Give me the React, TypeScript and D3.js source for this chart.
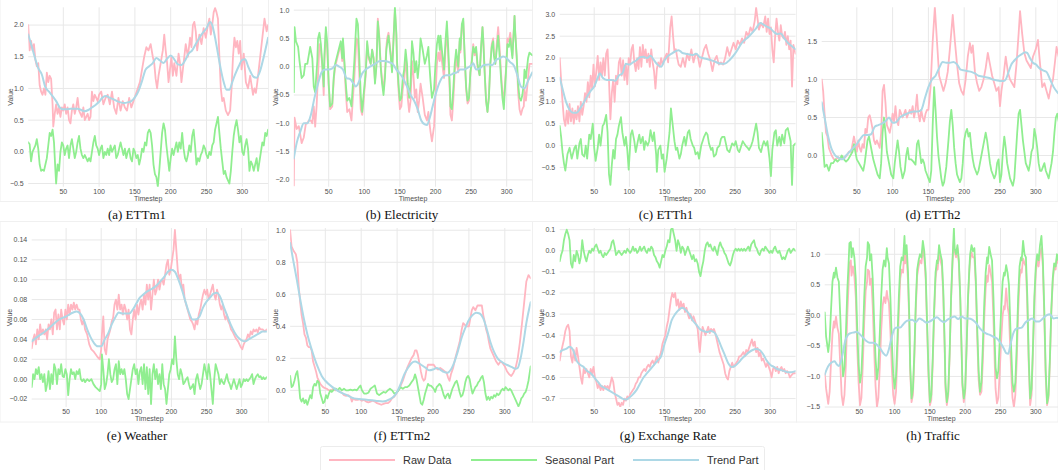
import React from "react";
import * as d3 from "d3";

type Pt = [number, number];

// ---------- ETTm1 ----------
const ettm1Raw: Pt[] = [[1,2.0],[3,1.6],[5,1.75],[7,1.6],[9,1.7],[11,1.45],[13,1.35],[15,1.4],[17,1.05],[19,0.95],[21,0.9],[23,1.0],[25,0.9],[27,1.25],[29,1.1],[31,1.2],[33,1.15],[35,0.75],[36,0.4],[38,0.6],[40,0.75],[42,0.6],[44,0.7],[46,0.55],[48,0.7],[50,0.65],[52,0.75],[54,0.6],[56,0.7],[58,0.5],[60,0.45],[62,0.65],[64,0.75],[66,0.6],[68,0.7],[70,0.85],[72,0.65],[74,0.6],[76,0.55],[78,0.7],[80,0.5],[82,0.55],[84,0.6],[86,0.5],[88,0.55],[90,0.95],[92,0.8],[94,0.9],[96,0.85],[98,0.8],[100,0.9],[103,0.95],[106,0.75],[109,0.85],[112,0.9],[115,0.75],[118,0.95],[121,0.7],[124,0.6],[127,0.85],[130,0.65],[133,0.8],[136,0.7],[139,0.65],[142,0.85],[145,0.7],[148,0.8],[151,0.9],[154,1.0],[157,1.1],[160,1.3],[163,1.5],[166,1.65],[169,1.6],[172,1.7],[175,1.5],[177,1.4],[179,1.15],[181,1.0],[183,1.2],[186,1.4],[189,1.6],[191,1.85],[193,1.6],[195,1.4],[197,1.1],[199,1.3],[201,1.5],[203,1.2],[205,1.4],[208,1.2],[211,1.55],[213,1.4],[215,1.1],[218,1.4],[221,1.7],[224,1.5],[227,1.8],[229,1.65],[231,2.0],[233,2.05],[235,1.9],[237,1.6],[240,1.85],[243,1.7],[246,1.95],[249,1.8],[252,2.0],[254,2.1],[256,1.85],[258,2.0],[260,2.2],[262,2.27],[264,2.2],[266,2.1],[268,1.5],[270,1.0],[272,0.8],[274,0.85],[277,0.65],[280,0.58],[283,0.65],[285,1.0],[287,1.5],[289,1.8],[291,1.65],[293,1.75],[295,1.55],[297,1.75],[299,1.3],[302,1.55],[305,1.1],[308,1.0],[311,1.2],[313,1.05],[315,0.9],[317,1.0],[319,0.93],[321,1.1],[323,1.3],[326,1.6],[329,1.9],[331,2.1],[334,1.9],[336,2.0]];
const ettm1Seasonal: Pt[] = [[1,0.15],[3,0.12],[5,-0.15],[7,0.0],[9,0.05],[11,0.1],[13,0.2],[15,0.05],[17,-0.2],[19,-0.3],[21,-0.28],[23,-0.3],[25,-0.2],[27,-0.1],[29,0.1],[31,0.3],[33,0.25],[35,0.35],[37,0.15],[39,-0.3],[40,-0.5],[42,-0.2],[44,-0.3],[46,0.0],[48,0.15],[50,0.1],[52,-0.05],[54,0.05],[56,0.1],[58,-0.1],[60,0.1],[62,0.2],[64,0.05],[66,-0.1],[68,0.0],[70,0.15],[72,0.25],[74,0.05],[76,-0.05],[78,-0.1],[80,-0.05],[82,-0.1],[84,-0.15],[86,-0.1],[88,-0.15],[90,0.0],[92,0.15],[94,0.25],[96,0.1],[98,0.05],[100,-0.05],[102,0.05],[104,0.1],[106,-0.1],[108,0.0],[110,-0.05],[112,0.05],[114,-0.05],[116,0.1],[118,0.0],[120,0.05],[122,0.1],[124,-0.1],[126,-0.05],[128,0.05],[130,0.15],[132,0.05],[134,-0.05],[136,0.05],[138,-0.1],[140,0.0],[142,0.05],[144,-0.1],[146,-0.15],[148,0.05],[150,0.0],[152,-0.1],[154,-0.05],[156,-0.2],[158,-0.1],[160,0.05],[162,0.0],[164,0.15],[166,0.1],[168,0.3],[170,0.35],[172,0.3],[174,0.1],[176,-0.2],[178,-0.35],[180,-0.4],[182,-0.55],[184,-0.3],[186,0.0],[188,0.3],[190,0.45],[192,0.35],[194,0.1],[196,-0.1],[198,-0.3],[200,-0.1],[202,0.05],[204,-0.05],[206,0.05],[208,0.15],[210,0.0],[212,0.15],[214,0.05],[216,0.3],[218,0.05],[220,-0.1],[222,-0.15],[224,-0.05],[226,0.1],[228,0.0],[230,0.25],[232,0.35],[234,0.1],[236,-0.2],[238,-0.1],[240,-0.15],[242,-0.05],[244,0.0],[246,0.1],[248,0.05],[250,-0.05],[252,-0.1],[254,0.0],[256,-0.05],[258,0.1],[260,0.15],[262,0.35],[264,0.45],[266,0.55],[268,0.3],[270,0.05],[272,-0.15],[274,-0.35],[276,-0.3],[278,-0.4],[280,-0.45],[282,-0.5],[284,-0.3],[286,0.0],[288,0.25],[290,0.4],[292,0.5],[294,0.35],[296,0.15],[298,0.25],[300,0.0],[302,-0.05],[304,0.1],[306,0.2],[308,0.05],[310,-0.3],[312,-0.15],[314,-0.2],[316,-0.3],[318,-0.2],[320,-0.1],[322,-0.3],[324,-0.15],[326,0.0],[328,0.15],[330,0.1],[332,0.3],[334,0.25],[336,0.35]];
const ettm1Trend: Pt[] = [[1,1.85],[5,1.7],[10,1.5],[15,1.32],[20,1.22],[25,1.02],[30,0.95],[35,0.88],[40,0.8],[45,0.7],[50,0.67],[55,0.67],[60,0.68],[65,0.68],[70,0.68],[75,0.66],[80,0.64],[85,0.66],[90,0.7],[95,0.74],[100,0.79],[105,0.86],[110,0.88],[115,0.85],[120,0.83],[125,0.8],[130,0.78],[135,0.77],[140,0.78],[145,0.8],[150,0.86],[155,0.96],[160,1.12],[165,1.3],[170,1.35],[175,1.4],[180,1.48],[185,1.44],[190,1.4],[195,1.47],[200,1.52],[205,1.46],[210,1.38],[215,1.37],[220,1.44],[225,1.55],[230,1.6],[235,1.7],[240,1.8],[245,1.88],[250,1.95],[255,2.05],[258,2.0],[262,1.8],[266,1.55],[270,1.3],[274,1.1],[278,0.98],[282,0.98],[286,1.1],[290,1.22],[295,1.35],[300,1.45],[304,1.46],[308,1.35],[312,1.25],[316,1.18],[320,1.17],[325,1.28],[330,1.5],[336,1.8]];

// ---------- Electricity ----------
const elecRaw: Pt[] = [[1,-2.1],[2,-0.9],[5,-1.1],[8,-1.05],[10,-1.2],[12,-1.35],[15,-1.25],[18,-1.0],[20,-1.0],[22,-0.95],[25,-0.95],[27,-1.0],[29,-0.7],[31,-1.06],[33,-0.7],[35,-0.15],[37,0.4],[39,0.3],[41,0.0],[43,-0.5],[44,0.1],[46,0.6],[48,0.3],[50,-0.35],[52,-0.75],[55,-0.7],[57,-0.25],[59,0.0],[62,0.15],[64,0.25],[67,0.4],[69,0.1],[70,0.45],[72,0.05],[74,-0.45],[76,-0.8],[79,-0.75],[82,-0.95],[84,-0.55],[86,-0.2],[87,0.05],[89,0.5],[91,0.45],[93,-0.15],[95,-0.75],[97,-0.85],[99,-0.6],[102,-0.15],[104,0.4],[106,0.15],[109,0.05],[111,0.3],[113,0.15],[115,-0.25],[117,0.05],[119,0.85],[121,0.55],[123,0.05],[125,-0.25],[127,-0.4],[129,-0.1],[131,0.35],[132,0.5],[134,0.6],[137,0.25],[139,-0.05],[141,0.5],[143,1.0],[145,0.55],[146,0.05],[148,-0.4],[150,-0.75],[152,-0.7],[154,-0.4],[156,-0.25],[158,0.15],[160,-0.15],[161,-0.55],[163,-0.8],[165,-0.6],[167,0.1],[169,-0.15],[171,-0.55],[173,-0.4],[175,-0.8],[177,-0.6],[179,-0.3],[182,-0.55],[185,-0.85],[188,-0.95],[190,-0.8],[191,-0.95],[193,-1.15],[195,-1.32],[198,-1.05],[200,-0.5],[202,0.05],[204,0.25],[206,0.1],[207,0.35],[209,0.1],[212,-0.2],[214,0.3],[216,0.65],[218,0.15],[220,-0.45],[221,-0.85],[223,-0.95],[225,-0.6],[227,-0.1],[229,0.15],[232,-0.1],[234,0.45],[235,0.25],[237,0.7],[239,0.8],[241,0.15],[243,-0.4],[245,-0.65],[247,-0.6],[249,-0.1],[251,0.1],[253,0.4],[255,0.2],[257,0.3],[259,0.0],[262,-0.15],[264,0.3],[266,0.7],[267,0.5],[269,-0.05],[271,-0.6],[273,-0.8],[275,-0.5],[277,0.05],[279,0.4],[281,0.5],[282,0.25],[284,0.05],[286,0.4],[288,0.7],[290,0.35],[292,-0.1],[294,-0.45],[296,-0.6],[297,-0.4],[299,-0.05],[301,0.5],[303,0.45],[305,0.6],[308,0.2],[311,0.9],[312,0.6],[314,0.15],[316,-0.45],[318,-0.75],[320,-0.85],[322,-0.75],[324,-0.7],[325,-0.4],[327,-0.6],[330,-0.2],[332,0.05],[336,0.05]];
const elecSeasonal: Pt[] = [[1,-0.45],[2,0.7],[4,0.45],[7,0.35],[9,0.1],[12,-0.2],[15,-0.15],[17,0.05],[20,0.05],[22,0.2],[24,0.35],[27,0.15],[29,-0.35],[31,-0.45],[34,0.1],[35,0.5],[37,0.6],[39,0.4],[41,0.05],[43,-0.35],[44,0.2],[46,0.7],[48,0.4],[50,-0.3],[52,-0.7],[55,-0.65],[57,-0.2],[59,0.05],[62,0.2],[64,0.3],[67,0.45],[69,0.15],[70,0.5],[72,0.1],[74,-0.3],[76,-0.6],[79,-0.55],[82,-0.7],[84,-0.3],[86,0.1],[87,0.35],[89,0.85],[91,0.75],[93,0.15],[95,-0.5],[97,-0.8],[99,-0.5],[102,-0.1],[104,0.45],[106,0.2],[109,0.05],[111,0.3],[113,0.15],[115,-0.3],[117,0.0],[119,0.8],[121,0.5],[123,0.0],[125,-0.3],[127,-0.5],[129,-0.2],[131,0.3],[132,0.4],[134,0.55],[137,0.2],[139,-0.1],[141,0.45],[143,1.05],[145,0.6],[146,0.1],[148,-0.3],[150,-0.6],[152,-0.55],[154,-0.2],[156,-0.05],[158,0.3],[160,0.05],[161,-0.3],[163,-0.55],[165,-0.3],[167,0.45],[169,0.25],[171,-0.1],[173,0.1],[175,-0.2],[177,0.05],[179,0.5],[182,0.3],[185,0.05],[188,0.2],[190,0.35],[191,0.1],[193,-0.25],[195,-0.55],[198,-0.4],[200,0.05],[202,0.4],[204,0.55],[206,0.3],[207,0.55],[209,0.3],[212,-0.05],[214,0.45],[216,0.8],[218,0.3],[220,-0.3],[221,-0.7],[223,-0.75],[225,-0.4],[227,0.05],[229,0.3],[232,0.0],[234,0.5],[235,0.3],[237,0.75],[239,0.85],[241,0.2],[243,-0.35],[245,-0.6],[247,-0.55],[249,-0.1],[251,0.1],[253,0.35],[255,0.25],[257,0.35],[259,0.05],[262,-0.15],[264,0.35],[266,0.7],[267,0.5],[269,-0.1],[271,-0.6],[273,-0.8],[275,-0.55],[277,0.05],[279,0.35],[281,0.45],[282,0.2],[284,0.05],[286,0.3],[288,0.55],[290,0.2],[292,-0.2],[294,-0.55],[296,-0.75],[297,-0.5],[299,-0.1],[301,0.4],[303,0.35],[305,0.5],[308,0.15],[311,0.9],[312,0.6],[314,0.2],[316,-0.3],[318,-0.55],[320,-0.6],[322,-0.5],[324,-0.3],[325,-0.05],[327,-0.2],[330,0.15],[332,0.25],[336,0.2]];
const elecTrend: Pt[] = [[1,-1.62],[5,-1.35],[10,-1.15],[15,-1.0],[20,-1.0],[25,-0.85],[30,-0.55],[35,-0.3],[40,-0.1],[45,-0.05],[50,-0.05],[55,-0.03],[60,0.03],[65,0.0],[70,-0.05],[75,-0.2],[80,-0.22],[85,-0.3],[88,-0.35],[92,-0.28],[97,-0.12],[102,-0.05],[108,0.0],[115,0.05],[122,0.1],[128,0.1],[135,0.08],[140,0.05],[145,-0.05],[150,-0.12],[155,-0.22],[160,-0.35],[165,-0.5],[170,-0.6],[175,-0.75],[180,-0.95],[185,-1.02],[188,-1.03],[192,-0.9],[196,-0.7],[200,-0.5],[205,-0.3],[210,-0.18],[215,-0.15],[220,-0.15],[225,-0.12],[230,-0.1],[235,-0.05],[240,-0.05],[245,-0.02],[250,0.02],[253,0.06],[257,-0.05],[262,-0.03],[268,0.03],[275,0.04],[280,0.03],[285,0.12],[290,0.15],[295,0.18],[300,0.15],[305,0.08],[310,0.02],[315,-0.15],[320,-0.35],[325,-0.38],[330,-0.25],[336,-0.1]];

// ---------- ETTh1 ----------
const etth1Raw: Pt[] = [[1,2.0],[3,1.5],[5,1.0],[7,0.6],[9,0.45],[11,0.8],[13,0.5],[15,0.95],[17,0.55],[19,0.85],[21,0.5],[23,0.8],[25,0.6],[27,0.9],[29,0.55],[31,1.0],[33,0.7],[35,0.9],[37,1.2],[39,1.0],[41,1.45],[43,1.1],[45,1.6],[47,1.3],[49,1.85],[51,1.35],[53,1.7],[55,2.05],[57,1.5],[59,1.9],[61,1.6],[63,2.0],[65,1.6],[67,2.1],[69,2.2],[71,1.5],[73,0.6],[75,1.2],[77,1.5],[79,1.0],[81,1.6],[83,1.4],[85,1.9],[87,2.0],[89,1.6],[91,1.95],[93,1.5],[95,1.85],[97,1.4],[99,2.0],[101,1.85],[103,2.2],[105,2.3],[107,1.9],[109,1.7],[111,2.0],[113,1.75],[115,2.25],[117,1.8],[119,2.3],[121,2.0],[123,2.2],[125,1.9],[127,2.1],[129,1.8],[131,2.2],[133,1.9],[135,1.7],[137,1.3],[139,1.75],[141,1.9],[143,1.8],[145,2.0],[147,1.85],[150,2.0],[153,2.1],[155,1.9],[158,2.7],[160,2.95],[162,2.5],[164,2.15],[166,2.2],[168,2.0],[170,1.85],[173,1.8],[176,2.0],[179,1.8],[182,2.1],[185,1.95],[188,2.2],[191,1.9],[194,2.1],[197,2.05],[200,1.8],[203,2.0],[206,2.2],[209,2.3],[212,2.1],[215,1.95],[218,1.7],[221,1.95],[224,2.05],[227,1.85],[230,1.9],[233,1.85],[236,2.0],[239,2.25],[242,2.05],[245,2.2],[248,2.35],[251,2.2],[254,2.4],[257,2.3],[260,2.45],[263,2.35],[266,2.6],[269,2.5],[272,2.7],[275,2.6],[278,2.85],[280,3.15],[282,2.9],[284,2.65],[287,2.8],[290,2.7],[293,2.95],[295,2.6],[297,2.9],[299,2.55],[301,2.7],[303,2.2],[305,1.9],[307,2.5],[309,2.9],[311,2.6],[313,2.4],[315,2.75],[317,2.5],[319,2.45],[321,2.6],[323,2.3],[325,2.5],[327,2.2],[329,2.4],[331,1.35],[333,2.3],[336,2.1]];
const etth1Seasonal: Pt[] = [[1,0.45],[3,0.2],[5,-0.15],[7,-0.4],[9,-0.57],[12,-0.2],[15,-0.05],[18,-0.3],[22,-0.05],[24,0.0],[26,-0.3],[29,0.05],[31,0.15],[33,-0.2],[36,-0.25],[38,0.0],[40,-0.3],[43,0.25],[45,0.15],[48,0.5],[50,-0.05],[52,-0.35],[55,-0.05],[57,0.25],[59,0.0],[62,0.45],[64,0.5],[67,0.7],[69,0.3],[71,-0.65],[73,-0.9],[75,-0.45],[77,-0.1],[79,-0.3],[81,0.15],[83,0.25],[85,0.45],[88,0.65],[90,0.3],[93,0.0],[95,0.2],[97,-0.1],[99,-0.55],[102,0.25],[104,0.35],[107,0.1],[109,-0.15],[112,0.1],[114,0.25],[116,0.05],[119,0.2],[121,-0.1],[123,0.1],[126,0.0],[128,0.1],[130,0.35],[133,0.1],[135,0.3],[138,-0.2],[139,-0.6],[141,-0.1],[144,0.0],[146,-0.3],[148,-0.2],[150,-0.6],[153,-0.3],[155,0.0],[157,0.3],[159,0.85],[161,0.55],[164,0.1],[166,-0.1],[168,-0.05],[171,-0.3],[173,-0.2],[175,0.0],[178,0.2],[180,0.0],[183,0.3],[185,0.35],[187,0.15],[190,0.0],[192,-0.05],[194,-0.2],[197,-0.15],[199,-0.3],[202,0.0],[204,0.1],[206,0.2],[209,0.3],[211,0.25],[213,0.05],[216,-0.1],[218,-0.05],[220,-0.25],[223,-0.2],[225,-0.05],[228,0.0],[230,0.15],[232,0.2],[235,0.2],[237,0.05],[239,-0.1],[242,-0.15],[244,-0.05],[246,0.05],[249,0.0],[251,0.1],[254,-0.1],[256,-0.15],[258,-0.05],[261,0.1],[263,0.05],[265,0.0],[268,-0.05],[270,-0.1],[273,0.0],[275,0.1],[277,0.25],[280,0.5],[282,0.3],[284,-0.05],[287,-0.15],[289,0.0],[291,0.1],[294,0.0],[296,0.1],[299,-0.3],[301,-0.7],[303,-0.1],[306,0.3],[308,0.35],[310,0.0],[313,0.2],[315,0.0],[317,0.25],[320,0.05],[322,0.35],[325,0.4],[327,0.25],[329,0.1],[331,-0.9],[333,0.0],[336,0.05]];
const etth1Trend: Pt[] = [[1,1.55],[5,1.3],[10,1.0],[15,0.82],[20,0.75],[25,0.75],[30,0.85],[35,0.98],[40,1.12],[45,1.25],[50,1.35],[55,1.55],[58,1.65],[62,1.55],[68,1.5],[75,1.5],[80,1.48],[85,1.6],[90,1.65],[95,1.87],[100,1.85],[105,1.9],[110,1.95],[115,2.02],[120,2.03],[125,2.0],[130,2.05],[135,1.95],[140,1.85],[145,1.8],[150,1.95],[155,2.05],[160,2.1],[165,2.15],[170,2.18],[175,2.12],[180,2.1],[190,2.07],[195,2.1],[200,2.02],[210,1.98],[220,1.93],[230,1.87],[235,1.87],[240,1.92],[250,2.1],[260,2.35],[270,2.5],[280,2.68],[286,2.8],[290,2.77],[295,2.72],[300,2.68],[305,2.6],[310,2.55],[315,2.56],[320,2.45],[325,2.35],[330,2.28],[336,2.2]];

// ---------- ETTh2 ----------
const etth2Raw: Pt[] = [[1,1.0],[3,0.85],[5,0.55],[7,0.3],[9,0.25],[11,0.1],[13,0.05],[15,0.0],[18,-0.05],[21,-0.05],[24,-0.02],[27,-0.05],[30,-0.02],[33,-0.03],[36,0.0],[39,0.05],[42,0.05],[44,0.15],[46,0.25],[48,0.15],[50,0.05],[52,0.2],[54,0.1],[56,0.05],[58,0.15],[60,0.1],[62,0.35],[64,0.3],[66,0.5],[68,0.53],[70,0.45],[72,0.35],[74,0.2],[76,0.15],[78,0.2],[80,0.15],[82,0.1],[84,0.3],[86,0.85],[88,0.93],[90,0.7],[92,0.4],[94,0.35],[96,0.3],[98,0.4],[100,0.55],[102,0.45],[104,0.65],[106,0.45],[108,0.4],[110,0.6],[112,0.55],[114,0.5],[116,0.55],[118,0.6],[120,0.5],[122,0.55],[124,0.6],[126,0.55],[128,0.65],[130,0.5],[132,0.6],[134,0.8],[136,0.55],[138,0.45],[140,0.6],[142,0.5],[144,0.45],[146,0.55],[148,0.6],[150,0.6],[153,0.9],[156,1.5],[159,1.95],[162,1.5],[165,1.05],[168,0.95],[171,0.85],[174,0.95],[177,1.1],[180,1.4],[184,1.85],[187,1.5],[190,1.2],[193,0.95],[196,0.85],[199,0.8],[202,1.0],[205,1.3],[208,1.48],[210,1.35],[212,1.45],[215,1.1],[218,0.95],[221,0.85],[224,0.9],[227,1.0],[230,1.15],[233,1.35],[236,1.2],[239,1.05],[242,0.95],[245,0.85],[248,0.9],[250,0.65],[252,0.85],[255,1.05],[258,1.3],[261,1.1],[264,1.0],[267,0.95],[270,0.9],[273,1.2],[276,1.6],[278,1.9],[281,1.6],[284,1.35],[287,1.25],[290,1.2],[293,1.15],[296,1.3],[300,1.4],[303,1.52],[306,1.2],[309,0.9],[312,0.95],[315,0.85],[318,0.75],[321,0.9],[324,1.0],[327,1.25],[329,1.43],[332,1.3]];
const etth2Seasonal: Pt[] = [[1,0.3],[3,0.1],[5,-0.15],[8,-0.12],[11,-0.2],[14,-0.1],[17,-0.1],[20,-0.05],[23,-0.08],[26,-0.05],[29,0.0],[32,-0.05],[35,-0.08],[38,-0.05],[41,0.0],[44,0.05],[46,0.15],[48,0.05],[50,-0.05],[53,-0.1],[56,-0.15],[59,-0.2],[61,-0.1],[63,0.05],[65,0.2],[67,0.25],[69,0.15],[71,0.05],[73,-0.05],[76,-0.15],[79,-0.25],[82,-0.3],[84,-0.1],[86,0.3],[88,0.5],[90,0.3],[92,0.05],[95,-0.1],[98,-0.25],[101,-0.3],[103,-0.1],[105,0.05],[107,0.2],[109,0.05],[111,-0.15],[114,-0.3],[117,-0.2],[119,0.0],[121,0.1],[123,-0.05],[126,-0.05],[129,-0.08],[132,-0.12],[134,0.15],[136,0.2],[138,0.05],[140,-0.1],[142,-0.05],[144,-0.1],[146,-0.2],[148,-0.25],[150,-0.3],[152,-0.35],[154,-0.2],[156,0.4],[158,0.9],[160,0.6],[162,0.25],[164,0.0],[166,-0.15],[168,-0.3],[170,-0.4],[172,-0.35],[175,-0.15],[178,0.2],[180,0.45],[182,0.6],[184,0.4],[186,0.1],[188,-0.1],[190,-0.25],[192,-0.3],[194,-0.35],[196,-0.3],[198,-0.1],[200,0.2],[202,0.3],[204,0.35],[206,0.25],[208,0.3],[210,0.1],[212,-0.05],[214,-0.15],[216,-0.2],[218,-0.25],[220,-0.2],[222,-0.1],[225,0.05],[228,0.2],[230,0.3],[232,0.2],[234,0.05],[236,-0.1],[238,-0.2],[240,-0.25],[242,-0.3],[244,-0.25],[246,-0.1],[248,-0.05],[250,-0.35],[252,-0.25],[254,0.05],[256,0.25],[258,0.1],[260,-0.1],[262,-0.2],[264,-0.3],[266,-0.35],[268,-0.4],[270,-0.3],[272,0.0],[274,0.3],[276,0.55],[278,0.6],[280,0.4],[282,0.2],[284,0.05],[286,-0.1],[288,-0.15],[290,-0.2],[292,-0.1],[294,0.05],[296,0.1],[298,0.35],[300,0.25],[302,0.1],[304,-0.1],[306,-0.2],[308,-0.2],[310,-0.15],[312,-0.1],[314,-0.2],[316,-0.25],[318,-0.3],[320,-0.2],[322,-0.1],[324,0.05],[326,0.3],[328,0.5],[330,0.55],[332,0.45]];
const etth2Trend: Pt[] = [[1,0.7],[5,0.5],[10,0.25],[15,0.08],[20,0.0],[25,-0.03],[30,-0.05],[35,0.0],[40,0.05],[45,0.1],[50,0.15],[55,0.22],[60,0.27],[65,0.27],[70,0.28],[75,0.38],[80,0.4],[85,0.42],[90,0.45],[95,0.5],[100,0.43],[105,0.44],[110,0.5],[115,0.53],[120,0.55],[125,0.57],[130,0.58],[135,0.58],[140,0.6],[145,0.75],[150,0.9],[155,1.0],[160,1.05],[165,1.15],[170,1.23],[175,1.22],[180,1.22],[185,1.23],[190,1.2],[195,1.13],[200,1.12],[205,1.11],[210,1.1],[215,1.08],[220,1.05],[225,1.04],[230,1.03],[235,1.02],[240,1.0],[245,0.99],[250,0.98],[255,0.98],[258,1.0],[262,1.1],[266,1.2],[270,1.25],[275,1.3],[280,1.33],[285,1.36],[288,1.35],[292,1.28],[296,1.22],[300,1.2],[305,1.15],[310,1.12],[315,1.1],[320,1.0],[325,0.9],[331,0.82]];

// ---------- Weather ----------
const weatherRaw: Pt[] = [[1,0.031],[3,0.04],[5,0.045],[7,0.035],[9,0.05],[11,0.04],[13,0.055],[15,0.045],[17,0.05],[19,0.045],[21,0.05],[23,0.04],[25,0.055],[27,0.05],[29,0.06],[31,0.045],[33,0.067],[35,0.07],[37,0.05],[39,0.065],[41,0.05],[43,0.07],[45,0.06],[47,0.055],[49,0.07],[51,0.06],[53,0.075],[55,0.065],[57,0.075],[59,0.07],[61,0.077],[63,0.07],[65,0.075],[67,0.07],[69,0.07],[71,0.06],[73,0.055],[75,0.06],[77,0.05],[80,0.045],[83,0.035],[86,0.03],[89,0.028],[92,0.025],[95,0.022],[98,0.02],[100,0.03],[101,0.045],[103,0.063],[105,0.03],[107,0.025],[109,0.04],[111,0.045],[113,0.05],[115,0.058],[117,0.062],[119,0.075],[121,0.08],[123,0.07],[125,0.085],[127,0.07],[129,0.075],[131,0.065],[133,0.075],[135,0.07],[137,0.06],[139,0.07],[141,0.05],[143,0.045],[145,0.06],[147,0.07],[149,0.06],[151,0.075],[153,0.065],[155,0.075],[157,0.08],[159,0.07],[161,0.085],[163,0.075],[165,0.095],[167,0.08],[169,0.095],[171,0.07],[173,0.085],[175,0.1],[177,0.085],[179,0.09],[181,0.1],[183,0.09],[185,0.098],[187,0.1],[189,0.095],[191,0.105],[193,0.115],[195,0.12],[197,0.105],[199,0.11],[201,0.12],[203,0.13],[205,0.15],[207,0.13],[209,0.11],[211,0.1],[213,0.105],[215,0.09],[217,0.095],[219,0.08],[221,0.075],[223,0.07],[225,0.065],[227,0.06],[229,0.058],[231,0.055],[233,0.05],[235,0.06],[237,0.055],[239,0.065],[241,0.07],[243,0.078],[245,0.085],[247,0.09],[249,0.085],[251,0.09],[253,0.08],[255,0.085],[257,0.09],[259,0.095],[261,0.085],[263,0.08],[265,0.09],[267,0.085],[269,0.075],[271,0.07],[273,0.075],[275,0.065],[277,0.06],[279,0.065],[281,0.058],[283,0.055],[285,0.05],[287,0.048],[289,0.045],[291,0.042],[293,0.04],[295,0.038],[297,0.035],[299,0.032],[301,0.03],[303,0.035],[305,0.038],[307,0.04],[309,0.045],[311,0.042],[313,0.048],[315,0.045],[317,0.05],[319,0.048],[321,0.05],[323,0.047],[325,0.052],[327,0.05],[330,0.05],[333,0.048],[336,0.05]];
const weatherSeasonal: Pt[] = [[1,-0.008],[3,0.005],[5,0.0],[7,0.01],[9,0.005],[11,0.012],[13,0.0],[15,0.005],[17,-0.003],[19,0.005],[21,-0.012],[23,-0.005],[25,0.008],[27,-0.01],[29,0.005],[31,-0.005],[33,0.015],[35,0.01],[37,-0.005],[39,0.01],[41,0.005],[43,0.015],[45,0.003],[47,0.002],[49,0.01],[51,0.005],[53,-0.016],[55,0.0],[57,0.01],[59,0.005],[61,0.007],[63,0.0],[65,0.008],[67,0.005],[69,0.01],[71,0.0],[73,-0.002],[75,0.0],[77,-0.003],[80,0.0],[83,-0.002],[86,0.0],[89,-0.005],[92,-0.008],[95,-0.01],[98,-0.012],[100,-0.005],[101,0.025],[103,0.01],[105,-0.01],[107,-0.005],[109,0.005],[111,0.02],[113,0.005],[115,-0.003],[117,0.0],[119,0.01],[121,0.015],[123,-0.005],[125,0.018],[127,0.005],[129,0.01],[131,0.005],[133,0.01],[135,0.0],[137,-0.015],[139,-0.02],[141,-0.01],[143,0.0],[145,0.01],[147,0.015],[149,0.005],[151,0.01],[153,-0.005],[155,0.008],[157,0.012],[159,-0.005],[161,0.015],[163,-0.01],[165,0.012],[167,-0.015],[169,0.01],[171,-0.025],[173,0.005],[175,0.015],[177,0.0],[179,0.01],[181,-0.005],[183,0.005],[185,-0.01],[187,0.015],[189,-0.005],[191,-0.01],[193,-0.025],[195,-0.01],[197,0.005],[199,0.01],[201,0.02],[203,0.015],[205,0.043],[207,0.02],[209,0.005],[211,0.0],[213,0.01],[215,0.005],[217,-0.005],[219,-0.003],[221,0.0],[223,0.002],[225,-0.005],[227,-0.01],[229,-0.008],[231,-0.005],[233,-0.015],[235,0.0],[237,0.005],[239,-0.003],[241,-0.01],[243,-0.005],[245,0.005],[247,0.015],[249,0.008],[251,0.0],[253,0.015],[255,0.005],[257,-0.01],[259,-0.025],[261,0.0],[263,0.015],[265,0.01],[267,0.005],[269,-0.005],[271,0.0],[273,-0.003],[275,-0.005],[277,0.0],[279,0.005],[281,-0.002],[283,-0.005],[285,-0.01],[287,-0.005],[289,0.0],[291,-0.005],[293,-0.01],[295,-0.005],[297,0.0],[299,-0.008],[301,-0.005],[303,0.0],[305,-0.002],[307,0.0],[309,-0.002],[311,0.0],[313,0.002],[315,0.005],[317,-0.005],[319,0.0],[321,0.003],[323,0.005],[325,0.002],[327,0.003],[329,0.0],[331,0.002],[333,0.0],[336,0.002]];
const weatherTrend: Pt[] = [[1,0.038],[10,0.043],[20,0.048],[30,0.054],[40,0.06],[50,0.063],[60,0.067],[65,0.068],[70,0.066],[75,0.06],[80,0.05],[85,0.042],[90,0.036],[95,0.033],[100,0.033],[105,0.04],[110,0.046],[115,0.055],[120,0.062],[125,0.067],[130,0.066],[135,0.066],[140,0.066],[145,0.07],[150,0.076],[155,0.082],[160,0.085],[165,0.088],[170,0.09],[175,0.092],[180,0.095],[185,0.099],[190,0.103],[195,0.108],[200,0.11],[205,0.108],[210,0.1],[215,0.09],[220,0.078],[225,0.067],[230,0.06],[235,0.06],[240,0.063],[245,0.072],[250,0.078],[255,0.082],[260,0.086],[265,0.087],[270,0.082],[275,0.072],[280,0.063],[285,0.054],[290,0.047],[295,0.042],[300,0.039],[305,0.038],[310,0.04],[315,0.042],[320,0.044],[325,0.046],[330,0.048],[336,0.048]];

// ---------- ETTm2 ----------
const ettm2Raw: Pt[] = [[1,1.0],[3,0.9],[6,0.87],[9,0.85],[11,0.8],[13,0.65],[15,0.55],[17,0.47],[19,0.42],[21,0.35],[23,0.33],[25,0.28],[27,0.27],[29,0.27],[31,0.25],[33,0.18],[35,0.15],[37,0.12],[39,0.08],[41,0.06],[43,0.04],[45,0.03],[47,0.02],[49,0.015],[52,0.01],[55,0.0],[58,0.0],[61,0.01],[64,0.0],[67,0.005],[70,-0.01],[73,-0.015],[76,-0.03],[79,-0.035],[82,-0.03],[85,-0.04],[87,-0.07],[89,-0.05],[92,-0.06],[95,-0.06],[98,-0.055],[101,-0.065],[104,-0.06],[107,-0.07],[110,-0.075],[113,-0.07],[116,-0.065],[119,-0.07],[122,-0.08],[125,-0.085],[128,-0.09],[131,-0.085],[134,-0.08],[137,-0.08],[140,-0.07],[143,-0.05],[146,-0.04],[149,-0.02],[152,0.0],[155,0.03],[158,0.06],[161,0.1],[164,0.14],[167,0.17],[170,0.2],[173,0.22],[175,0.25],[177,0.25],[179,0.22],[181,0.17],[183,0.12],[185,0.08],[187,0.06],[189,0.07],[191,0.13],[193,0.16],[195,0.16],[198,0.16],[201,0.16],[204,0.14],[207,0.13],[210,0.14],[213,0.13],[216,0.12],[219,0.11],[221,0.08],[223,0.06],[225,0.1],[228,0.14],[231,0.2],[234,0.25],[237,0.3],[240,0.38],[242,0.42],[244,0.41],[247,0.4],[250,0.4],[252,0.45],[254,0.5],[256,0.52],[259,0.5],[262,0.53],[265,0.53],[268,0.53],[270,0.47],[272,0.43],[274,0.38],[276,0.35],[278,0.3],[280,0.26],[282,0.24],[285,0.21],[288,0.18],[291,0.16],[294,0.18],[297,0.17],[300,0.15],[303,0.12],[306,0.1],[309,0.09],[312,0.11],[315,0.14],[318,0.2],[321,0.3],[324,0.42],[327,0.55],[330,0.68],[333,0.72],[336,0.7]];
const ettm2Seasonal: Pt[] = [[1,0.09],[3,0.02],[5,0.03],[7,0.06],[9,0.1],[11,0.12],[13,0.05],[15,-0.05],[17,-0.07],[19,-0.05],[21,-0.08],[23,-0.06],[25,-0.09],[27,-0.06],[29,-0.03],[31,-0.05],[33,0.02],[35,0.04],[37,0.03],[39,0.06],[41,0.05],[43,-0.02],[45,-0.05],[47,-0.08],[49,-0.07],[51,-0.03],[53,-0.05],[55,-0.02],[57,0.0],[59,-0.01],[61,0.0],[63,0.01],[65,0.01],[67,0.0],[70,0.015],[73,0.0],[76,0.01],[79,0.0],[82,0.0],[85,0.005],[88,0.0],[91,0.005],[94,0.0],[97,0.02],[99,0.03],[101,0.0],[104,-0.02],[107,-0.02],[110,-0.015],[113,0.01],[116,0.02],[119,0.03],[122,-0.02],[125,-0.03],[128,-0.02],[131,-0.01],[134,-0.015],[137,0.0],[140,0.01],[143,0.0],[146,-0.02],[149,-0.015],[152,0.0],[155,0.02],[158,0.01],[161,0.02],[164,0.02],[167,0.03],[170,0.05],[173,0.07],[175,0.1],[177,0.07],[179,0.02],[181,-0.03],[183,-0.08],[185,-0.09],[187,-0.06],[189,-0.02],[191,0.01],[193,0.04],[195,0.03],[197,0.03],[199,0.02],[201,0.01],[203,-0.01],[205,0.02],[207,0.03],[209,0.04],[211,0.03],[213,0.0],[215,-0.03],[217,-0.05],[219,-0.03],[221,-0.02],[223,-0.05],[225,-0.02],[227,0.01],[229,0.03],[231,0.05],[233,0.06],[235,0.03],[237,-0.01],[239,-0.04],[241,-0.03],[243,0.0],[245,0.05],[247,0.08],[249,0.09],[251,0.07],[253,0.02],[255,-0.02],[257,0.0],[259,0.02],[261,0.03],[263,0.05],[265,0.06],[267,0.08],[269,0.09],[271,0.05],[273,-0.02],[275,-0.06],[277,-0.04],[279,-0.06],[281,-0.04],[283,-0.05],[285,-0.03],[287,-0.04],[289,-0.02],[291,-0.03],[293,-0.02],[295,0.0],[297,0.01],[299,0.0],[301,0.02],[303,0.01],[305,0.0],[307,0.01],[309,0.0],[311,-0.02],[313,-0.04],[315,-0.06],[317,-0.08],[319,-0.1],[321,-0.08],[323,-0.05],[325,-0.04],[327,-0.02],[329,-0.01],[331,0.02],[333,0.06],[336,0.15]];
const ettm2Trend: Pt[] = [[1,0.92],[5,0.82],[10,0.7],[15,0.57],[20,0.45],[25,0.35],[30,0.27],[35,0.2],[40,0.14],[45,0.09],[50,0.06],[60,0.02],[70,-0.01],[80,-0.03],[90,-0.05],[100,-0.055],[110,-0.06],[120,-0.065],[130,-0.07],[140,-0.055],[145,-0.04],[150,-0.01],[155,0.04],[160,0.1],[165,0.14],[170,0.17],[175,0.18],[180,0.17],[185,0.155],[190,0.14],[195,0.125],[200,0.13],[205,0.14],[210,0.13],[215,0.115],[220,0.11],[225,0.13],[230,0.18],[235,0.25],[240,0.33],[245,0.39],[250,0.44],[255,0.47],[260,0.485],[265,0.48],[270,0.45],[275,0.38],[280,0.3],[285,0.24],[290,0.2],[295,0.18],[300,0.165],[305,0.155],[310,0.145],[315,0.135],[318,0.14],[322,0.2],[326,0.3],[330,0.42],[336,0.55]];

// ---------- Exchange Rate ----------
const exchRaw: Pt[] = [[1,-0.52],[3,-0.48],[5,-0.45],[7,-0.42],[9,-0.38],[11,-0.36],[13,-0.35],[15,-0.38],[17,-0.5],[19,-0.53],[21,-0.47],[23,-0.52],[25,-0.46],[27,-0.5],[29,-0.55],[31,-0.6],[33,-0.63],[35,-0.56],[37,-0.58],[39,-0.56],[41,-0.58],[43,-0.6],[45,-0.56],[47,-0.58],[49,-0.55],[51,-0.6],[53,-0.62],[55,-0.65],[57,-0.63],[59,-0.66],[61,-0.64],[63,-0.66],[65,-0.64],[67,-0.65],[69,-0.64],[71,-0.66],[73,-0.63],[75,-0.6],[77,-0.62],[79,-0.67],[81,-0.7],[83,-0.73],[85,-0.72],[87,-0.74],[89,-0.72],[91,-0.73],[93,-0.7],[95,-0.71],[97,-0.69],[99,-0.7],[101,-0.68],[103,-0.67],[105,-0.66],[107,-0.65],[109,-0.63],[111,-0.62],[113,-0.6],[115,-0.6],[117,-0.58],[119,-0.57],[121,-0.56],[123,-0.57],[125,-0.55],[127,-0.54],[129,-0.55],[131,-0.53],[133,-0.52],[135,-0.54],[137,-0.52],[139,-0.5],[141,-0.53],[143,-0.5],[145,-0.48],[147,-0.44],[149,-0.42],[151,-0.4],[153,-0.36],[155,-0.33],[157,-0.28],[159,-0.23],[161,-0.2],[163,-0.22],[165,-0.2],[167,-0.26],[169,-0.23],[171,-0.28],[173,-0.24],[175,-0.27],[177,-0.25],[179,-0.29],[181,-0.27],[183,-0.3],[185,-0.32],[187,-0.3],[189,-0.33],[191,-0.31],[193,-0.33],[195,-0.35],[197,-0.37],[199,-0.45],[200,-0.48],[202,-0.4],[204,-0.36],[206,-0.38],[208,-0.4],[210,-0.38],[212,-0.36],[214,-0.39],[216,-0.37],[218,-0.38],[220,-0.37],[222,-0.39],[224,-0.42],[226,-0.45],[228,-0.48],[230,-0.5],[232,-0.52],[234,-0.54],[236,-0.58],[238,-0.6],[240,-0.61],[242,-0.57],[244,-0.55],[246,-0.53],[248,-0.55],[250,-0.54],[252,-0.53],[254,-0.52],[256,-0.5],[258,-0.5],[260,-0.49],[262,-0.48],[264,-0.5],[266,-0.47],[268,-0.48],[270,-0.46],[272,-0.44],[274,-0.42],[276,-0.45],[278,-0.43],[280,-0.48],[282,-0.46],[284,-0.5],[286,-0.48],[288,-0.52],[290,-0.51],[292,-0.53],[294,-0.55],[296,-0.53],[298,-0.55],[300,-0.57],[302,-0.6],[304,-0.56],[306,-0.55],[308,-0.57],[310,-0.55],[312,-0.58],[314,-0.56],[316,-0.55],[318,-0.57],[320,-0.56],[322,-0.58],[324,-0.57],[326,-0.58],[328,-0.6],[330,-0.59],[333,-0.58],[336,-0.58]];
const exchSeasonal: Pt[] = [[1,-0.05],[3,-0.02],[5,0.0],[7,0.05],[9,0.08],[11,0.1],[13,0.08],[15,0.05],[17,-0.06],[19,-0.08],[21,-0.02],[23,-0.05],[25,0.0],[27,-0.02],[29,-0.06],[31,-0.03],[33,0.05],[35,0.0],[37,-0.03],[39,-0.05],[41,-0.02],[43,0.0],[45,-0.01],[47,0.01],[49,0.0],[51,0.02],[53,0.03],[55,0.01],[57,-0.01],[59,0.0],[61,-0.02],[63,-0.03],[65,-0.01],[67,-0.02],[69,-0.01],[71,0.0],[73,0.01],[75,0.04],[77,0.05],[79,0.02],[81,-0.02],[83,-0.01],[85,0.0],[87,-0.01],[89,-0.02],[91,-0.01],[93,0.0],[95,-0.01],[97,0.01],[99,0.0],[101,-0.01],[103,0.0],[105,0.02],[107,0.0],[109,0.01],[111,-0.01],[113,0.0],[115,0.02],[117,0.0],[119,0.01],[121,0.02],[123,0.0],[125,-0.01],[127,0.01],[129,0.0],[131,0.02],[133,0.01],[135,-0.02],[137,-0.03],[139,-0.05],[141,-0.06],[143,-0.08],[145,-0.05],[147,-0.02],[149,-0.03],[151,0.0],[153,0.02],[155,0.05],[157,0.04],[159,0.1],[161,0.11],[163,0.08],[165,0.05],[167,0.0],[169,0.05],[171,0.03],[173,-0.01],[175,0.02],[177,0.01],[179,-0.02],[181,0.0],[183,0.02],[185,0.0],[187,-0.02],[189,-0.04],[191,-0.02],[193,-0.05],[195,-0.04],[197,-0.06],[199,-0.1],[201,-0.12],[203,-0.08],[205,-0.05],[207,0.0],[209,0.03],[211,0.04],[213,0.02],[215,0.03],[217,0.01],[219,0.0],[221,0.02],[223,0.0],[225,-0.02],[227,0.02],[229,0.04],[231,0.02],[233,0.01],[235,-0.01],[237,-0.02],[239,-0.04],[241,-0.06],[243,-0.07],[245,-0.05],[247,-0.02],[249,0.0],[251,0.01],[253,0.0],[255,0.01],[257,0.0],[259,0.01],[261,0.0],[263,0.01],[265,0.0],[267,0.01],[269,0.02],[271,0.0],[273,0.03],[275,0.04],[277,0.05],[279,0.02],[281,0.01],[283,-0.01],[285,-0.02],[287,0.0],[289,0.01],[291,0.0],[293,0.02],[295,0.01],[297,0.0],[299,-0.01],[301,0.0],[303,-0.01],[305,0.01],[307,0.02],[309,0.0],[311,-0.01],[313,0.0],[315,-0.02],[317,-0.04],[319,-0.03],[321,-0.04],[323,-0.02],[325,0.0],[327,0.01],[329,-0.01],[331,0.0],[333,0.01],[336,0.0]];
const exchTrend: Pt[] = [[1,-0.48],[5,-0.47],[10,-0.465],[15,-0.455],[20,-0.47],[25,-0.52],[30,-0.54],[35,-0.55],[40,-0.57],[45,-0.58],[50,-0.6],[55,-0.62],[60,-0.64],[65,-0.65],[70,-0.66],[75,-0.67],[80,-0.68],[85,-0.69],[90,-0.7],[95,-0.705],[100,-0.695],[105,-0.68],[110,-0.66],[115,-0.63],[120,-0.6],[125,-0.58],[130,-0.56],[135,-0.54],[140,-0.52],[145,-0.5],[150,-0.44],[155,-0.39],[160,-0.33],[165,-0.3],[170,-0.28],[175,-0.27],[180,-0.28],[185,-0.3],[190,-0.33],[195,-0.35],[200,-0.37],[205,-0.38],[210,-0.385],[215,-0.38],[220,-0.385],[225,-0.41],[230,-0.45],[235,-0.49],[240,-0.53],[245,-0.55],[250,-0.545],[255,-0.53],[260,-0.51],[265,-0.495],[270,-0.48],[275,-0.47],[280,-0.465],[285,-0.47],[290,-0.49],[295,-0.52],[300,-0.54],[305,-0.55],[310,-0.56],[315,-0.565],[320,-0.57],[325,-0.575],[330,-0.575],[336,-0.57]];

// ---------- Traffic ----------
const trafficRaw: Pt[] = [[1,-0.95],[3,-1.2],[6,-1.45],[8,-1.25],[10,-0.75],[12,-0.3],[14,-0.1],[15,-0.2],[17,-0.02],[19,-0.2],[21,-0.3],[23,-0.8],[25,-1.3],[27,-1.47],[29,-1.3],[31,-0.8],[33,0.0],[35,0.55],[36,0.85],[38,0.9],[39,0.65],[41,0.8],[43,0.65],[45,0.3],[47,-0.5],[49,-1.1],[51,-1.47],[53,-1.35],[55,-0.8],[57,-0.1],[59,0.4],[61,0.55],[62,0.75],[64,0.72],[65,0.5],[67,0.6],[69,0.15],[71,-0.55],[73,-1.15],[75,-1.5],[77,-1.35],[79,-0.85],[81,-0.25],[83,0.15],[85,0.3],[87,0.2],[89,0.4],[90,0.3],[92,0.2],[94,-0.25],[96,-0.85],[98,-1.3],[100,-1.45],[102,-1.25],[104,-0.65],[106,0.05],[108,0.6],[110,0.75],[112,0.7],[114,1.1],[115,0.85],[117,1.0],[119,0.55],[121,-0.2],[122,-0.9],[124,-1.42],[126,-1.3],[128,-0.7],[130,0.1],[132,0.65],[134,0.8],[136,0.9],[138,0.85],[140,1.08],[142,0.95],[144,0.6],[146,-0.2],[148,-1.0],[150,-1.47],[152,-1.38],[154,-0.8],[156,0.0],[158,0.6],[160,0.8],[161,0.75],[163,1.03],[165,0.9],[167,0.8],[169,0.3],[171,-0.6],[172,-1.2],[174,-1.47],[176,-1.3],[178,-0.65],[180,0.25],[182,0.85],[184,1.25],[185,1.05],[187,0.95],[189,1.1],[191,0.85],[193,0.25],[195,-0.65],[196,-1.15],[198,-1.42],[200,-1.25],[202,-0.55],[204,0.25],[206,0.75],[207,0.9],[209,1.03],[211,0.95],[213,0.95],[215,0.5],[217,-0.35],[219,-1.05],[221,-1.3],[223,-1.25],[225,-0.75],[227,-0.05],[229,0.45],[231,0.65],[232,0.55],[234,0.82],[236,0.7],[238,0.55],[240,-0.05],[242,-0.85],[243,-1.2],[245,-1.44],[247,-1.35],[249,-0.9],[251,-0.4],[253,0.0],[255,0.15],[256,0.1],[258,0.44],[260,0.15],[262,0.0],[264,-0.6],[266,-1.15],[267,-1.35],[269,-1.5],[271,-1.3],[273,-0.75],[275,0.05],[277,0.6],[279,0.75],[280,0.7],[282,0.93],[284,0.85],[286,0.8],[288,0.15],[290,-0.8],[292,-1.47],[294,-1.3],[296,-0.6],[298,0.2],[300,0.7],[302,0.9],[304,0.8],[306,1.0],[308,1.1],[310,0.8],[312,0.0],[314,-1.0],[316,-1.47],[318,-1.35],[320,-0.75],[322,0.05],[324,0.55],[326,0.8],[328,0.75],[330,0.95],[332,0.85],[334,1.0],[336,0.95]];
const trafficSeasonal: Pt[] = [[1,0.05],[3,-0.35],[6,-0.6],[8,-0.4],[10,0.1],[12,0.55],[14,0.7],[15,0.62],[17,0.78],[19,0.62],[21,0.55],[23,0.0],[25,-0.6],[27,-1.0],[29,-0.85],[31,-0.3],[33,0.4],[35,0.9],[36,1.18],[38,1.2],[39,0.95],[41,1.1],[43,0.95],[45,0.6],[47,-0.2],[49,-0.8],[51,-1.1],[53,-0.95],[55,-0.4],[57,0.3],[59,0.8],[61,0.95],[62,1.2],[64,1.15],[65,0.9],[67,1.0],[69,0.6],[71,-0.1],[73,-0.7],[75,-1.05],[77,-0.85],[79,-0.3],[81,0.3],[83,0.75],[85,0.9],[87,0.8],[89,1.1],[90,0.95],[92,0.85],[94,0.3],[96,-0.4],[98,-0.95],[100,-1.2],[102,-1.0],[104,-0.4],[106,0.3],[108,0.8],[110,0.95],[112,0.9],[114,1.3],[115,1.0],[117,1.15],[119,0.7],[121,-0.1],[122,-0.8],[124,-1.36],[126,-1.2],[128,-0.6],[130,0.2],[132,0.75],[134,0.9],[136,1.0],[138,0.95],[140,1.22],[142,1.05],[144,0.7],[146,-0.1],[148,-0.9],[150,-1.42],[152,-1.3],[154,-0.7],[156,0.1],[158,0.7],[160,0.9],[161,0.85],[163,1.15],[165,1.0],[167,0.9],[169,0.4],[171,-0.5],[172,-1.1],[174,-1.42],[176,-1.25],[178,-0.6],[180,0.3],[182,0.9],[184,1.43],[185,1.1],[187,1.0],[189,1.15],[191,0.9],[193,0.3],[195,-0.6],[196,-1.1],[198,-1.36],[200,-1.2],[202,-0.5],[204,0.3],[206,0.8],[207,1.0],[209,1.15],[211,1.05],[213,1.1],[215,0.6],[217,-0.2],[219,-0.9],[221,-1.25],[223,-1.1],[225,-0.5],[227,0.2],[229,0.7],[231,0.95],[232,0.85],[234,1.12],[236,1.0],[238,0.9],[240,0.3],[242,-0.5],[243,-0.85],[245,-1.03],[247,-0.9],[249,-0.4],[251,0.1],[253,0.55],[255,0.7],[256,0.65],[258,0.82],[260,0.7],[262,0.5],[264,-0.2],[266,-0.8],[267,-1.1],[269,-1.25],[271,-1.1],[273,-0.5],[275,0.3],[277,0.8],[279,0.95],[280,0.9],[282,1.22],[284,1.0],[286,0.95],[288,0.3],[290,-0.7],[292,-1.36],[294,-1.2],[296,-0.5],[298,0.3],[300,0.8],[302,1.0],[304,0.9],[306,1.15],[308,1.3],[310,0.9],[312,0.1],[314,-0.9],[316,-1.44],[318,-1.3],[320,-0.7],[322,0.1],[324,0.6],[326,0.85],[328,0.8],[330,1.0],[332,0.9],[334,1.05],[336,1.0]];
const trafficTrend: Pt[] = [[1,-0.97],[4,-0.88],[8,-0.8],[12,-0.76],[15,-0.75],[18,-0.8],[21,-0.83],[24,-0.75],[27,-0.6],[30,-0.42],[34,-0.32],[38,-0.29],[42,-0.28],[46,-0.27],[50,-0.3],[55,-0.36],[60,-0.42],[65,-0.45],[70,-0.45],[75,-0.48],[80,-0.55],[84,-0.62],[88,-0.66],[92,-0.55],[96,-0.35],[100,-0.22],[104,-0.2],[108,-0.2],[112,-0.15],[116,-0.1],[120,-0.08],[125,-0.07],[130,-0.11],[135,-0.05],[140,-0.08],[145,-0.12],[150,-0.1],[155,-0.06],[160,-0.03],[165,-0.08],[170,-0.11],[175,-0.07],[180,-0.04],[185,-0.02],[190,-0.06],[195,-0.02],[200,-0.05],[205,-0.05],[210,-0.07],[215,-0.12],[220,-0.2],[225,-0.26],[230,-0.3],[235,-0.32],[240,-0.35],[245,-0.38],[250,-0.45],[255,-0.55],[258,-0.62],[261,-0.63],[264,-0.48],[268,-0.3],[272,-0.22],[276,-0.21],[280,-0.2],[285,-0.12],[290,-0.08],[295,-0.05],[300,-0.1],[305,-0.1],[310,-0.05],[315,0.0],[320,0.02],[325,-0.05],[330,-0.04],[336,-0.07]];

// ---------- axis ticks ----------
const xTickValues = [50, 100, 150, 200, 250, 300];
const ettm1YTicks = [-0.5, 0, 0.5, 1, 1.5, 2];
const elecYTicks = [-2, -1.5, -1, -0.5, 0, 0.5, 1];
const etth1YTicks = [-0.5, 0, 0.5, 1, 1.5, 2, 2.5, 3];
const etth2YTicks = [0, 0.5, 1, 1.5];
const weatherYTicks = [-0.02, 0, 0.02, 0.04, 0.06, 0.08, 0.1, 0.12, 0.14];
const ettm2YTicks = [0, 0.2, 0.4, 0.6, 0.8, 1];
const exchYTicks = [-0.7, -0.6, -0.5, -0.4, -0.3, -0.2, -0.1, 0, 0.1];
const trafficYTicks = [-1.5, -1, -0.5, 0, 0.5, 1];

const seriesNames = ["Raw Data", "Seasonal Part", "Trend Part"];

const COLORS = { raw: "#ffb6c1", seasonal: "#90ee90", trend: "#add8e6" };
const GRID = "#e8e8e8";
const TICK_TEXT = "#505050";
const SANS = "'Liberation Sans', Arial, sans-serif";
const SERIF = "'Liberation Serif', 'Times New Roman', serif";

interface PanelSpec {
  key: string;
  caption: string;
  raw: Pt[];
  seasonal: Pt[];
  trend: Pt[];
  yDomain: [number, number];
  yTicks: number[];
  yFormat: string;
  x0: number;
  k: number;
  top: number;
  bottom: number;
  titleDx: number;
  captionX: number;
  captionY: number;
}

const ROW1 = { top: 7.3, bottom: 186.7, captionY: 219 };
const ROW2 = { top: 228, bottom: 407, captionY: 440 };

const panels: PanelSpec[] = [
  { key: "a", caption: "(a) ETTm1", raw: ettm1Raw, seasonal: ettm1Seasonal, trend: ettm1Trend, yDomain: [-0.55, 2.28], yTicks: ettm1YTicks, yFormat: ".1f", x0: 27.5, k: 0.716, ...ROW1, titleDx: 18, captionX: 137 },
  { key: "b", caption: "(b) Electricity", raw: elecRaw, seasonal: elecSeasonal, trend: elecTrend, yDomain: [-2.12, 1.05], yTicks: elecYTicks, yFormat: ".1f", x0: 293.1, k: 0.712, ...ROW1, titleDx: 18.4, captionX: 402 },
  { key: "c", caption: "(c) ETTh1", raw: etth1Raw, seasonal: etth1Seasonal, trend: etth1Trend, yDomain: [-0.94, 3.16], yTicks: etth1YTicks, yFormat: ".1f", x0: 559, k: 0.704, ...ROW1, titleDx: 18.3, captionX: 666 },
  { key: "d", caption: "(d) ETTh2", raw: etth2Raw, seasonal: etth2Seasonal, trend: etth2Trend, yDomain: [-0.41, 1.95], yTicks: etth2YTicks, yFormat: ".1f", x0: 821, k: 0.716, ...ROW1, titleDx: 15, captionX: 933 },
  { key: "e", caption: "(e) Weather", raw: weatherRaw, seasonal: weatherSeasonal, trend: weatherTrend, yDomain: [-0.028, 0.152], yTicks: weatherYTicks, yFormat: ".2f", x0: 31, k: 0.702, ...ROW2, titleDx: 21.7, captionX: 137 },
  { key: "f", caption: "(f) ETTm2", raw: ettm2Raw, seasonal: ettm2Seasonal, trend: ettm2Trend, yDomain: [-0.104, 1.014], yTicks: ettm2YTicks, yFormat: ".1f", x0: 289.4, k: 0.718, ...ROW2, titleDx: 15, captionX: 402 },
  { key: "g", caption: "(g) Exchange Rate", raw: exchRaw, seasonal: exchSeasonal, trend: exchTrend, yDomain: [-0.74, 0.108], yTicks: exchYTicks, yFormat: ".1f", x0: 559, k: 0.704, ...ROW2, titleDx: 18.3, captionX: 668 },
  { key: "h", caption: "(h) Traffic", raw: trafficRaw, seasonal: trafficSeasonal, trend: trafficTrend, yDomain: [-1.5, 1.43], yTicks: trafficYTicks, yFormat: ".1f", x0: 824, k: 0.706, ...ROW2, titleDx: 16.6, captionX: 933 },
];

// outlines of the individual sub-figure tiles
const tileEdges = [0, 268.5, 532.5, 796.5, 1058];

function Panel({ p }: { p: PanelSpec }) {
  const x = d3.scaleLinear().domain([0, 336]).range([p.x0, p.x0 + 336 * p.k]);
  const y = d3.scaleLinear().domain(p.yDomain).range([p.bottom, p.top]);
  const left = x(1);
  const right = x(336);
  const jagged = d3.line<Pt>().x((d) => x(d[0])).y((d) => y(d[1])).curve(d3.curveLinear);
  const smooth = d3.line<Pt>().x((d) => x(d[0])).y((d) => y(d[1])).curve(d3.curveMonotoneX);
  const fmt = d3.format(p.yFormat);
  const clipId = `plot-clip-${p.key}`;
  const midY = (p.top + p.bottom) / 2;
  const midX = (left + Math.min(right, 1058)) / 2;
  return (
    <g>
      <clipPath id={clipId}>
        <rect x={left} y={p.top} width={right - left} height={p.bottom - p.top} />
      </clipPath>
      {p.yTicks.map((t) => (
        <line key={`gy${t}`} x1={left} x2={right} y1={y(t)} y2={y(t)} stroke={GRID} strokeWidth={1} />
      ))}
      {xTickValues.map((t) => (
        <line key={`gx${t}`} x1={x(t)} x2={x(t)} y1={p.top} y2={p.bottom} stroke={GRID} strokeWidth={1} />
      ))}
      <g clipPath={`url(#${clipId})`} fill="none" strokeLinejoin="round" strokeLinecap="round">
        <path d={jagged(p.raw) ?? ""} stroke={COLORS.raw} strokeWidth={1.8} />
        <path d={jagged(p.seasonal) ?? ""} stroke={COLORS.seasonal} strokeWidth={1.8} />
        <path d={smooth(p.trend) ?? ""} stroke={COLORS.trend} strokeWidth={2} />
      </g>
      {p.yTicks.map((t) => (
        <text key={`ty${t}`} x={left - 4.5} y={y(t)} dy="0.34em" textAnchor="end" fontSize={7} fill={TICK_TEXT} fontFamily={SANS}>
          {fmt(t)}
        </text>
      ))}
      {xTickValues.map((t) => (
        <text key={`tx${t}`} x={x(t)} y={p.bottom + 7.2} textAnchor="middle" fontSize={7} fill={TICK_TEXT} fontFamily={SANS}>
          {t}
        </text>
      ))}
      <text x={midX} y={p.bottom + 13.8} textAnchor="middle" fontSize={7} fill={TICK_TEXT} fontFamily={SANS}>
        Timestep
      </text>
      <text
        transform={`translate(${left - p.titleDx},${midY}) rotate(-90)`}
        dy="0.34em"
        textAnchor="middle"
        fontSize={7}
        fill={TICK_TEXT}
        fontFamily={SANS}
      >
        Value
      </text>
      <text x={p.captionX} y={p.captionY} textAnchor="middle" fontSize={13} fill="#111" fontFamily={SERIF}>
        {p.caption}
      </text>
    </g>
  );
}

export default function App() {
  const legendItems = [
    { name: seriesNames[0], color: COLORS.raw, x1: 329, x2: 395, tx: 403 },
    { name: seriesNames[1], color: COLORS.seasonal, x1: 471, x2: 537, tx: 545 },
    { name: seriesNames[2], color: COLORS.trend, x1: 633, x2: 699, tx: 707 },
  ];
  return (
    <svg
      width={1058}
      height={470}
      viewBox="0 0 1058 470"
      style={{ position: "absolute", left: 0, top: 0, background: "#fff" }}
    >
      <rect x={0} y={0} width={1058} height={470} fill="#fff" />
      {[0, 1].map((row) =>
        tileEdges.slice(0, 4).map((xe, i) => (
          <rect
            key={`tile${row}-${i}`}
            x={xe}
            y={row === 0 ? -1 : 221.5}
            width={tileEdges[i + 1] - xe}
            height={row === 0 ? 202.5 : 200.5}
            fill="none"
            stroke="#f0f0f0"
            strokeWidth={1}
          />
        ))
      )}
      {panels.map((p) => (
        <Panel key={p.key} p={p} />
      ))}
      <rect x={320.5} y={446.5} width={444} height={30} rx={2} fill="#fff" stroke="#ececec" strokeWidth={1} />
      {legendItems.map((it) => (
        <g key={it.name}>
          <line x1={it.x1} x2={it.x2} y1={460} y2={460} stroke={it.color} strokeWidth={2} />
          <text x={it.tx} y={460} dy="0.35em" fontSize={11} fill="#333" fontFamily={SANS}>
            {it.name}
          </text>
        </g>
      ))}
    </svg>
  );
}
